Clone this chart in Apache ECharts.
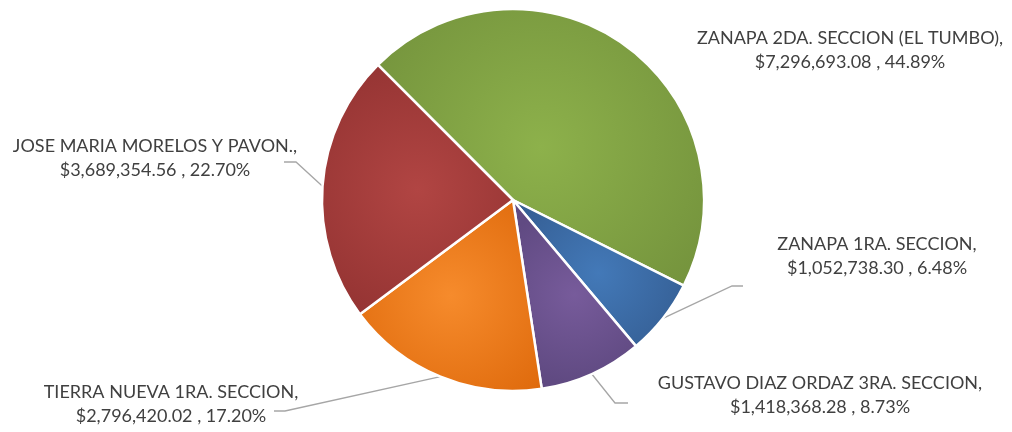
<!DOCTYPE html>
<html>
<head>
<meta charset="utf-8">
<script src="https://cdn.jsdelivr.net/npm/echarts@6/dist/echarts.min.js"></script>
<style>
  html, body { margin: 0; padding: 0; background: #fff; }
  #chart { width: 1012px; height: 432px; }
</style>
</head>
<body>
<div id="chart"></div>
<script>
// datos de la gráfica
const localidades = [
  "ZANAPA 2DA. SECCION (EL TUMBO)",
  "ZANAPA 1RA. SECCION",
  "GUSTAVO DIAZ ORDAZ 3RA. SECCION",
  "TIERRA NUEVA 1RA. SECCION",
  "JOSE MARIA MORELOS Y PAVON."
];
const montos = [7296693.08, 1052738.30, 1418368.28, 2796420.02, 3689354.56];

// colores (centro claro, borde oscuro) estilo Excel
const colorCentro = ["#8db14b", "#4379b8", "#775b9b", "#f68b2c", "#b14543"];
const colorBorde = ["#75943d", "#345d92", "#604a82", "#df6a0c", "#953433"];

// posición de cada etiqueta y su guía (codo, final)
const posEtiquetas = [
  { x: 850, y: 50, guia: null },
  { x: 877, y: 256, guia: [[732, 286], [743, 286]] },
  { x: 820, y: 395, guia: [[615, 403], [628, 403]] },
  { x: 171, y: 404, guia: [[285, 411], [274, 411]] },
  { x: 155, y: 158, guia: [[296, 162], [284, 162]] }
];

const fmtMoneda = (v) =>
  v.toLocaleString("en-US", { minimumFractionDigits: 2, maximumFractionDigits: 2 });

const chart = echarts.init(document.getElementById("chart"), null, { renderer: "canvas" });

chart.setOption({
  animation: false,
  backgroundColor: "#fff",
  series: [
    {
      type: "pie",
      center: [513, 200],
      radius: 191,
      startAngle: 135,
      clockwise: true,
      avoidLabelOverlap: false,
      percentPrecision: 2,
      itemStyle: { borderColor: "#fff", borderWidth: 2.5 },
      label: {
        show: true,
        position: "outside",
        color: "#404040",
        fontFamily: "Lato, 'Liberation Sans', sans-serif",
        fontSize: 18,
        lineHeight: 24,
        align: "center",
        formatter: (p) =>
          p.name + ",\n$" + fmtMoneda(p.value) + " , " + p.percent.toFixed(2) + "%"
      },
      labelLine: {
        show: true,
        lineStyle: { color: "#a6a6a6", width: 1.3 }
      },
      labelLayout: (params) => {
        const pos = posEtiquetas[params.dataIndex];
        const out = { x: pos.x, y: pos.y, align: "center", verticalAlign: "middle" };
        if (pos.guia && params.labelLinePoints) {
          out.labelLinePoints = [params.labelLinePoints[0], pos.guia[0], pos.guia[1]];
        }
        return out;
      },
      data: localidades.map((nombre, i) => ({
        name: nombre,
        value: montos[i],
        labelLine: { show: posEtiquetas[i].guia !== null },
        itemStyle: {
          color: {
            type: "radial",
            x: 0.5, y: 0.5, r: 0.7,
            colorStops: [
              { offset: 0, color: colorCentro[i] },
              { offset: 1, color: colorBorde[i] }
            ]
          }
        }
      }))
    }
  ]
});
</script>
</body>
</html>
